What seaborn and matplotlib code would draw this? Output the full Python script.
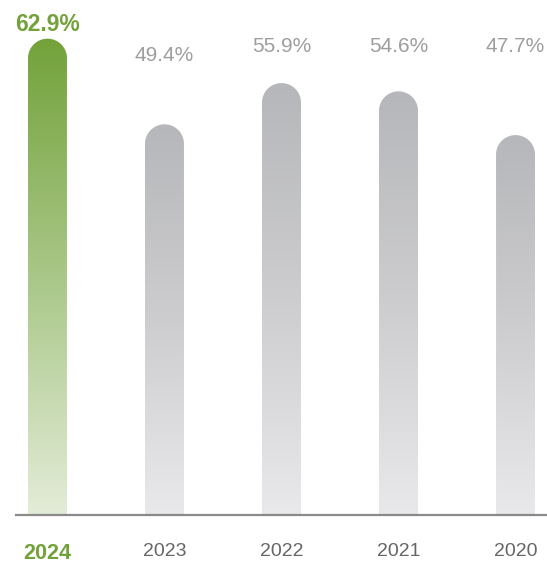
import numpy as np
import pandas as pd
import matplotlib
matplotlib.use('Agg')
import matplotlib.pyplot as plt
import seaborn as sns
from matplotlib.path import Path
from matplotlib.patches import PathPatch
from matplotlib.colors import LinearSegmentedColormap

years = ['2024', '2023', '2022', '2021', '2020']
share = [62.9, 49.4, 55.9, 54.6, 47.7]
labels = ['62.9%', '49.4%', '55.9%', '54.6%', '47.7%']

df = pd.DataFrame({'year': years, 'share': share})

sns.set_theme(style='white')
plt.rcParams['font.family'] = ['Liberation Sans', 'DejaVu Sans']

fig = plt.figure(figsize=(5.47, 5.63), dpi=100)
ax = fig.add_axes([16 / 547, 48 / 563, 531 / 547, 515 / 563])

sns.barplot(data=df, x='year', y='share', order=years, width=0.333,
            color='#bbbbbb', ax=ax)
base = -12.2   # bars start below zero, as in the original artwork
ax.set_xlim(-0.269, 4.269)
ax.set_ylim(base, 69.0)

green = LinearSegmentedColormap.from_list('g', ['#e3ecd8', '#a9c788', '#73a23a'])
grey = LinearSegmentedColormap.from_list('k', ['#e9e9eb', '#cdcdcf', '#b6b7ba'])

# pixels per data unit, to keep the rounded caps circular
px_x = ax.bbox.width / (ax.get_xlim()[1] - ax.get_xlim()[0])
px_y = ax.bbox.height / (ax.get_ylim()[1] - ax.get_ylim()[0])

for i, p in enumerate(ax.patches):
    x0, w = p.get_x(), p.get_width()
    y0 = base
    top = p.get_y() + p.get_height()
    rx = w / 2
    ry = rx * px_x / px_y
    cx = x0 + rx
    t = np.linspace(np.pi, 0, 40)
    verts = [(x0, y0), (x0, top - ry)]
    verts += [(cx + rx * np.cos(a), top - ry + ry * np.sin(a)) for a in t]
    verts += [(x0 + w, y0), (x0, y0)]
    codes = [Path.MOVETO] + [Path.LINETO] * (len(verts) - 2) + [Path.CLOSEPOLY]
    clip = PathPatch(Path(verts, codes), transform=ax.transData,
                     facecolor='none', edgecolor='none')
    ax.add_patch(clip)
    grad = np.linspace(0, 1, 256).reshape(-1, 1)
    im = ax.imshow(grad, extent=[x0, x0 + w, y0, top], origin='lower',
                   aspect='auto', cmap=green if i == 0 else grey,
                   interpolation='bicubic', zorder=2)
    im.set_clip_path(clip)
    p.set_visible(False)

# value labels (placed as in the original layout)
label_y = [0.952, 0.893, 0.910, 0.910, 0.910]
for i, lab in enumerate(labels):
    if i == 0:
        ax.text(i, label_y[i], lab, transform=ax.get_xaxis_transform(),
                ha='center', va='center', fontsize=16.5, fontweight='bold',
                color='#73a23a')
    else:
        ax.text(i, label_y[i], lab, transform=ax.get_xaxis_transform(),
                ha='center', va='center', fontsize=15, color='#9e9e9e')

for s in ['top', 'right', 'left']:
    ax.spines[s].set_visible(False)
ax.spines['bottom'].set_color('#8a8a8a')
ax.spines['bottom'].set_linewidth(1.6)
ax.spines['bottom'].set_zorder(5)

ax.set_yticks([])
ax.set_xlabel('')
ax.set_ylabel('')
ax.tick_params(axis='x', length=0, pad=20, labelsize=14, labelcolor='#666666')
ticks = ax.get_xticklabels()
ticks[0].set_fontweight('bold')
ticks[0].set_fontsize(15.5)
ticks[0].set_color('#73a23a')

fig.savefig('out.png', dpi=100)
